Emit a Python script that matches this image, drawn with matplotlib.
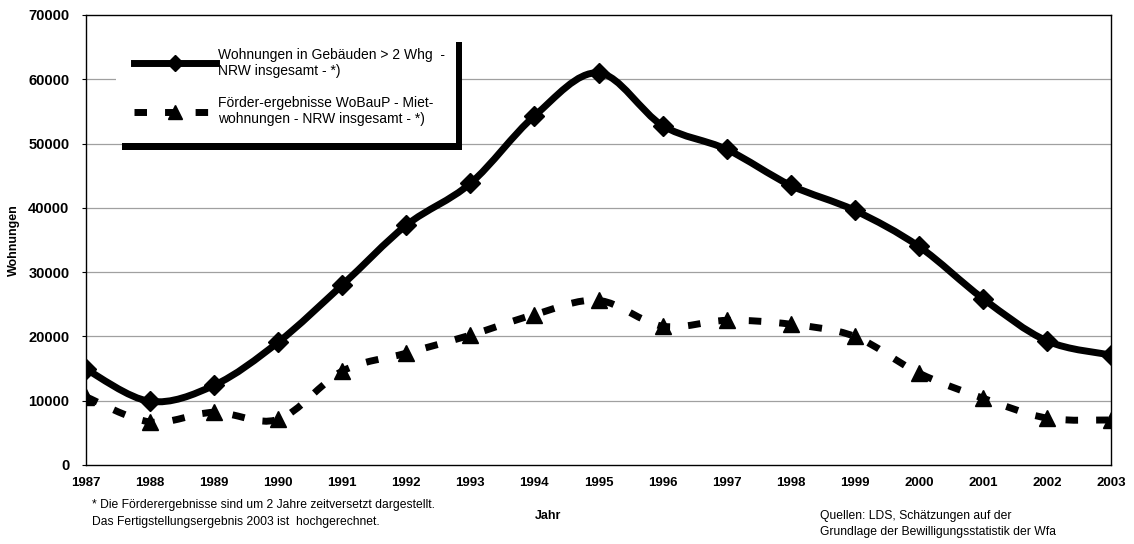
import numpy as np
import matplotlib.pyplot as plt
from matplotlib.path import Path
from matplotlib.patches import PathPatch, Rectangle
from matplotlib.lines import Line2D

plt.rcParams['font.family'] = ['Liberation Sans', 'DejaVu Sans']

# Daten
jahre = [1987, 1988, 1989, 1990, 1991, 1992, 1993, 1994, 1995,
         1996, 1997, 1998, 1999, 2000, 2001, 2002, 2003]
wohnungen = [14900, 9900, 12400, 19100, 28000, 37300, 43800, 54300, 61000,
             52800, 49100, 43500, 39600, 34000, 25900, 19300, 17100]
foerder = [10600, 6700, 8200, 7100, 14600, 17400, 20200, 23400, 25600,
           21600, 22500, 21900, 20000, 14300, 10400, 7300, 7000]
yticks = [0, 10000, 20000, 30000, 40000, 50000, 60000, 70000]

label1 = 'Wohnungen in Gebäuden > 2 Whg  -\nNRW insgesamt - *)'
label2 = 'Förder-ergebnisse WoBauP - Miet-\nwohnungen - NRW insgesamt - *)'


#Glatte Kurve wie in Excel (Bezier durch die Punkte)
def smooth_path(x, y):
    pts = np.column_stack([x, y]).astype(float)
    n = len(pts)
    verts = [pts[0]]
    codes = [Path.MOVETO]
    for i in range(n - 1):
        p0 = pts[i - 1] if i > 0 else pts[i]
        p1 = pts[i]
        p2 = pts[i + 1]
        p3 = pts[i + 2] if i + 2 < n else pts[i + 1]
        c1 = p1 + (p2 - p0) / 6
        c2 = p2 - (p3 - p1) / 6
        verts += [c1, c2, p2]
        codes += [Path.CURVE4] * 3
    return Path(verts, codes)


dash = (0, (1.8, 2.6))

fig = plt.figure(figsize=(11.34, 5.44), dpi=100)
ax = fig.add_axes([86 / 1134, 1 - 465 / 544, 1025 / 1134, 450 / 544])

for yv in yticks[1:-1]:
    ax.axhline(yv, color='#a0a0a0', lw=0.9, zorder=1)

ax.add_patch(PathPatch(smooth_path(jahre, wohnungen), fill=False, ec='black',
                       lw=5, capstyle='round', zorder=3))
ax.plot(jahre, wohnungen, ls='none', marker='D', ms=10, color='black', zorder=3)

ax.add_patch(PathPatch(smooth_path(jahre, foerder), fill=False, ec='black',
                       lw=5, linestyle=dash, zorder=3))
ax.plot(jahre, foerder, ls='none', marker='^', ms=12, color='black', zorder=3)

ax.set_xlim(1987, 2003)
ax.set_ylim(0, 70000)
ax.set_xticks(jahre)
ax.set_xticklabels([str(j) for j in jahre], fontweight='bold', fontsize=9.5)
ax.set_yticks(yticks)
ax.set_yticklabels([str(v) for v in yticks], fontweight='bold', fontsize=10.5)
ax.tick_params(axis='x', length=0, pad=9)
ax.tick_params(axis='y', length=3, width=0.8, pad=9)
for s in ax.spines.values():
    s.set_linewidth(1.0)

ax.set_ylabel('Wohnungen', fontweight='bold', fontsize=9, labelpad=6)

#Legende mit Schatten
ax.add_patch(Rectangle((122 / 1134, 1 - 150 / 544), 340 / 1134, 108 / 544,
                       transform=fig.transFigure, fc='black', ec='none',
                       zorder=4, clip_on=False))
ax.add_patch(Rectangle((116 / 1134, 1 - 143 / 544), 340 / 1134, 108 / 544,
                       transform=fig.transFigure, fc='white', ec='none',
                       zorder=4.5, clip_on=False))
h1 = Line2D([], [], color='black', lw=5, marker='D', ms=8)
h2 = Line2D([], [], color='black', lw=5, ls=dash, marker='^', ms=10)
leg = ax.legend([h1, h2], [label1, label2], loc='upper left',
                bbox_to_anchor=(124 / 1134, 1 - 38 / 544),
                bbox_transform=fig.transFigure, frameon=False,
                fontsize=10, handlelength=5.9, handletextpad=0.15,
                labelspacing=1.3, borderpad=0.2)
leg.set_zorder(5)

#Texte unten
fig.text(548 / 1134, 1 - 516 / 544, 'Jahr', fontweight='bold', fontsize=9,
         ha='center', va='center')
fig.text(92 / 1134, 1 - 505 / 544,
         '* Die Förderergebnisse sind um 2 Jahre zeitversetzt dargestellt.',
         fontsize=8.7, va='center')
fig.text(92 / 1134, 1 - 522 / 544,
         'Das Fertigstellungsergebnis 2003 ist  hochgerechnet.',
         fontsize=8.7, va='center')
fig.text(820 / 1134, 1 - 516 / 544, 'Quellen: LDS, Schätzungen auf der',
         fontsize=8.7, va='center')
fig.text(820 / 1134, 1 - 532 / 544,
         'Grundlage der Bewilligungsstatistik der Wfa',
         fontsize=8.7, va='center')

fig.savefig('out.png', dpi=100)
